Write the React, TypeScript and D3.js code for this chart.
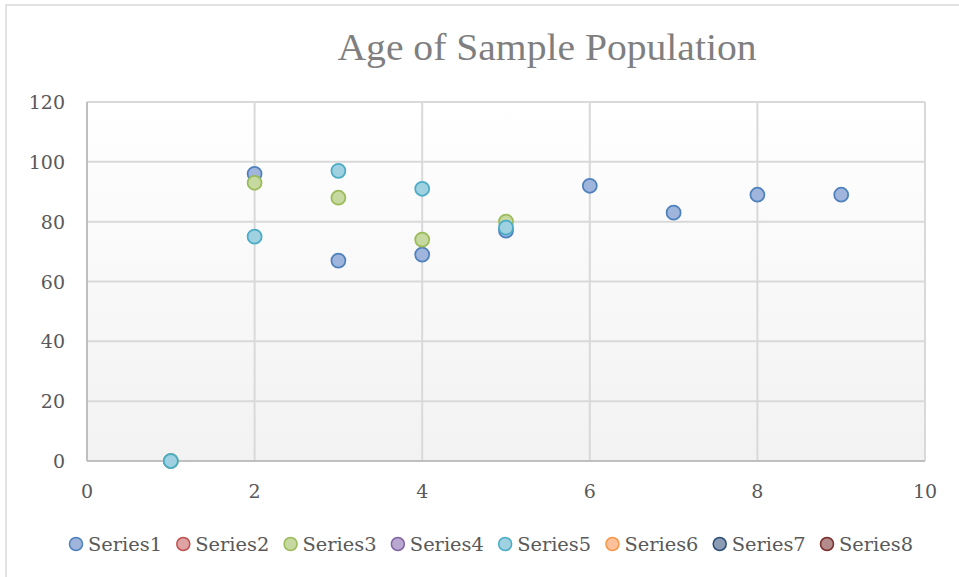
import React, { useEffect, useRef } from "react"
import * as d3 from "d3"

// scatter of age by group, 8 series (only 1, 3, 5 have points)
const seriesNames = ["Series1", "Series2", "Series3", "Series4", "Series5", "Series6", "Series7", "Series8"]
const strokeColors = ["#4f81bd", "#c0504d", "#9bbb59", "#8064a2", "#4bacc6", "#f79646", "#2c4d75", "#772c2a"]
const fillColors = ["#a0b5db", "#dda4a3", "#c6d9a0", "#b8a8cf", "#9fd1e0", "#fcc09a", "#8a9bb3", "#b48b8a"]

const series1X = [1, 2, 3, 4, 5, 6, 7, 8, 9]
const series1Y = [0, 96, 67, 69, 77, 92, 83, 89, 89]
const series3X = [1, 2, 3, 4, 5]
const series3Y = [0, 93, 88, 74, 80]
const series5X = [1, 2, 3, 4, 5]
const series5Y = [0, 75, 97, 91, 78]

const xTicks = [0, 2, 4, 6, 8, 10]
const yTicks = [0, 20, 40, 60, 80, 100, 120]

const W = 959
const H = 577

export default function App() {
  const ref = useRef<SVGSVGElement>(null)

  useEffect(() => {
    const svg = d3.select(ref.current)
    svg.selectAll("*").remove()

    const font = "'DejaVu Serif', serif"
    const titleFont = "'Liberation Serif', serif"
    const left = 87, right = 925, top = 102, bottom = 461

    const x = d3.scaleLinear().domain([0, 10]).range([left, right])
    const y = d3.scaleLinear().domain([0, 120]).range([bottom, top])

    const points: { x: number; y: number }[][] = [
      series1X.map((v, i) => ({ x: v, y: series1Y[i] })),
      [],
      series3X.map((v, i) => ({ x: v, y: series3Y[i] })),
      [],
      series5X.map((v, i) => ({ x: v, y: series5Y[i] })),
      [],
      [],
      [],
    ]

    // outer frame (only left and top edges fall inside the picture)
    svg.append("rect")
      .attr("x", 6).attr("y", 5)
      .attr("width", W + 20).attr("height", H + 20)
      .attr("fill", "white")
      .attr("stroke", "#d9d9d9").attr("stroke-width", 1.5)

    // plot background gradient
    const grad = svg.append("defs").append("linearGradient")
      .attr("id", "bg").attr("x1", 0).attr("y1", 0).attr("x2", 0).attr("y2", 1)
    grad.append("stop").attr("offset", "0%").attr("stop-color", "#ffffff")
    grad.append("stop").attr("offset", "100%").attr("stop-color", "#f2f2f2")

    svg.append("rect")
      .attr("x", left).attr("y", top)
      .attr("width", right - left).attr("height", bottom - top)
      .attr("fill", "url(#bg)")

    // gridlines
    svg.append("g").selectAll("line.h")
      .data(yTicks.filter(d => d > 0))
      .join("line")
      .attr("x1", left).attr("x2", right)
      .attr("y1", d => y(d)).attr("y2", d => y(d))
      .attr("stroke", "#d9d9d9").attr("stroke-width", 2)

    svg.append("g").selectAll("line.v")
      .data(xTicks.filter(d => d > 0))
      .join("line")
      .attr("x1", d => x(d)).attr("x2", d => x(d))
      .attr("y1", top).attr("y2", bottom)
      .attr("stroke", "#d9d9d9").attr("stroke-width", 2)

    // axis lines
    svg.append("line")
      .attr("x1", left).attr("x2", left).attr("y1", top).attr("y2", bottom)
      .attr("stroke", "#bfbfbf").attr("stroke-width", 2)
    svg.append("line")
      .attr("x1", left).attr("x2", right).attr("y1", bottom).attr("y2", bottom)
      .attr("stroke", "#bfbfbf").attr("stroke-width", 2)

    // tick labels
    svg.append("g").selectAll("text")
      .data(yTicks)
      .join("text")
      .attr("x", 65).attr("y", d => y(d) + 7)
      .attr("text-anchor", "end")
      .attr("font-family", font).attr("font-size", 19)
      .attr("fill", "#595959")
      .text(d => d)

    svg.append("g").selectAll("text")
      .data(xTicks)
      .join("text")
      .attr("x", d => x(d)).attr("y", 498)
      .attr("text-anchor", "middle")
      .attr("font-family", font).attr("font-size", 19)
      .attr("fill", "#595959")
      .text(d => d)

    // title
    svg.append("text")
      .attr("x", 547).attr("y", 60)
      .attr("text-anchor", "middle")
      .attr("font-family", titleFont).attr("font-size", 37)
      .attr("textLength", 419).attr("lengthAdjust", "spacingAndGlyphs")
      .attr("fill", "#7f7f7f")
      .text("Age of Sample Population")

    // markers
    points.forEach((pts, si) => {
      svg.append("g").selectAll("circle")
        .data(pts)
        .join("circle")
        .attr("cx", d => x(d.x)).attr("cy", d => y(d.y))
        .attr("r", 7)
        .attr("fill", fillColors[si])
        .attr("stroke", strokeColors[si]).attr("stroke-width", 1.75)
    })

    // legend
    const lx = d3.scaleLinear().domain([0, 7]).range([76, 827])
    const lg = svg.append("g").selectAll("g")
      .data(seriesNames)
      .join("g")
      .attr("transform", (d, i) => `translate(${lx(i)},544)`)
    lg.append("circle")
      .attr("r", 6.5)
      .attr("fill", (d, i) => fillColors[i])
      .attr("stroke", (d, i) => strokeColors[i]).attr("stroke-width", 1.5)
    lg.append("text")
      .attr("x", 12).attr("y", 7)
      .attr("font-family", font).attr("font-size", 19)
      .attr("textLength", 74).attr("lengthAdjust", "spacingAndGlyphs")
      .attr("fill", "#595959")
      .text(d => d)
  }, [])

  return (
    <svg
      ref={ref}
      width={W}
      height={H}
      style={{ position: "absolute", left: 0, top: 0, background: "white" }}
    />
  )
}
